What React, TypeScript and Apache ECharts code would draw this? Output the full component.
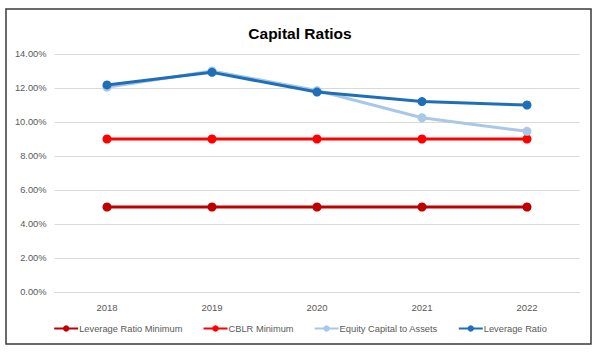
import React, { useEffect, useRef } from "react";
import * as echarts from "echarts";

const categories = ["2018", "2019", "2020", "2021", "2022"];
const leverageRatioMinimum = [5, 5, 5, 5, 5];
const cblrMinimum = [9, 9, 9, 9, 9];
const equityCapitalToAssets = [12.05, 13.0, 11.85, 10.25, 9.45];
const leverageRatio = [12.18, 12.92, 11.76, 11.2, 11.0];

const seriesNames = ["Leverage Ratio Minimum", "CBLR Minimum", "Equity Capital to Assets", "Leverage Ratio"];
const seriesColors = ["#C00000", "#FF0000", "#A9C8E8", "#1F6FB8"];

export default function App() {
  const ref = useRef<HTMLDivElement>(null);
  useEffect(() => {
    if (!ref.current) return;
    const chart = echarts.init(ref.current, undefined, { renderer: "svg" });
    const font = "Liberation Sans";
    const datasets = [leverageRatioMinimum, cblrMinimum, equityCapitalToAssets, leverageRatio];
    chart.setOption({
      animation: false,
      backgroundColor: "#ffffff",
      title: {
        text: "Capital Ratios",
        left: "center",
        top: 20,
        textStyle: { fontFamily: font, fontSize: 15.5, fontWeight: "bold", color: "#000000" },
      },
      graphic: [
        {
          type: "rect",
          shape: { x: 6, y: 9, width: 585, height: 335 },
          style: { fill: "none", stroke: "#3a3a3a", lineWidth: 1.5 },
          silent: true,
        },
      ],
      legend: {
        bottom: 16,
        left: "center",
        itemWidth: 24,
        itemHeight: 8,
        itemGap: 20,
        data: seriesNames,
        textStyle: { fontFamily: font, fontSize: 9.3, color: "#595959", padding: [0, 0, 0, -4] },
      },
      grid: { left: 54.5, right: 20.5, top: 54, bottom: 62, containLabel: false },
      xAxis: {
        type: "category",
        data: categories,
        boundaryGap: true,
        axisLine: { show: true, lineStyle: { color: "#d9d9d9" } },
        axisTick: { show: false },
        axisLabel: { fontFamily: font, fontSize: 9.5, color: "#595959", margin: 10 },
      },
      yAxis: {
        type: "value",
        min: 0,
        max: 14,
        interval: 2,
        axisLine: { show: false },
        axisTick: { show: false },
        splitLine: { lineStyle: { color: "#d9d9d9" } },
        axisLabel: {
          fontFamily: font,
          fontSize: 9.3,
          color: "#595959",
          margin: 8,
          formatter: (v: number) => v.toFixed(2) + "%",
        },
      },
      series: seriesNames.map((name, i) => ({
        name,
        type: "line",
        data: datasets[i],
        symbol: "circle",
        symbolSize: 9,
        lineStyle: { width: 3, color: seriesColors[i] },
        itemStyle: { color: seriesColors[i] },
        z: i + 2,
      })),
    });
    return () => chart.dispose();
  }, []);
  return <div ref={ref} style={{ position: "fixed", left: 0, top: 0, width: 600, height: 354 }} />;
}
